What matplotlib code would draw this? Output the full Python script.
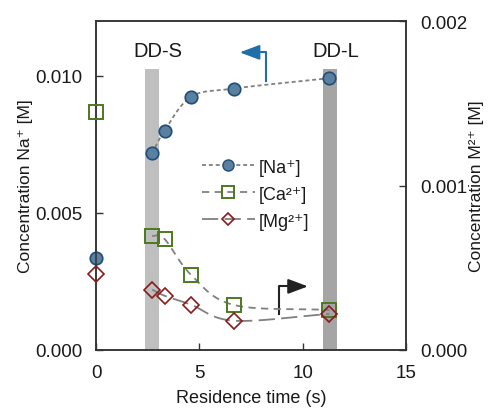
import numpy as np
import matplotlib
matplotlib.use("Agg")
import matplotlib.pyplot as plt
from matplotlib.ticker import FormatStrFormatter

# data
time_s = [0.0, 2.71, 3.31, 4.6, 6.66, 11.29]
na_conc = [0.00334, 0.00717, 0.0080, 0.00924, 0.00954, 0.00992]
ca_conc = [0.00145, 0.000695, 0.000675, 0.000456, 0.000274, 0.000243]
mg_conc = [0.000462, 0.000367, 0.00033, 0.000275, 0.000178, 0.000219]

zone_labels = ["DD-S", "DD-L"]
zone_x = [2.70, 11.31]
zone_height = 0.01027
zone_colors = ["#bfbfbf", "#a5a5a5"]

plt.rcParams['font.family'] = ['Liberation Sans', 'DejaVu Sans']
LINE = "#808080"
TXT = "#1a1a1a"


def smooth(x, y, n=20):
    """Catmull-Rom curve through the points (like a smoothed spreadsheet line)"""
    x = np.asarray(x, float)
    y = np.asarray(y, float)
    px = np.concatenate([[2 * x[0] - x[1]], x, [2 * x[-1] - x[-2]]])
    py = np.concatenate([[2 * y[0] - y[1]], y, [2 * y[-1] - y[-2]]])
    t = np.linspace(0, 1, n)[:, None]
    xs, ys = [], []
    for i in range(1, len(px) - 2):
        for p, out in ((px, xs), (py, ys)):
            p0, p1, p2, p3 = p[i - 1], p[i], p[i + 1], p[i + 2]
            seg = 0.5 * ((2 * p1) + (-p0 + p2) * t + (2 * p0 - 5 * p1 + 4 * p2 - p3) * t**2
                         + (-p0 + 3 * p1 - 3 * p2 + p3) * t**3)
            out.append(seg.ravel())
    return np.concatenate(xs), np.concatenate(ys)


fig = plt.figure(figsize=(4.88, 4.10), dpi=100)
ax = fig.add_axes([0.197, 0.144, 0.635, 0.802])
ax2 = ax.twinx()

# grey zones
for xc, c in zip(zone_x, zone_colors):
    ax.bar(xc, zone_height, width=0.68, color=c, zorder=0)
for lab, xc in zip(zone_labels, zone_x):
    ax.text(xc + 0.3, 0.01092, lab, ha='center', va='center', fontsize=14.5, color=TXT)

# Na on left axis
sx, sy = smooth(time_s[1:], na_conc[1:])
ax.plot(sx, sy, color=LINE, ls=(0, (2.2, 1.6)), lw=1.3, zorder=2)
ax.plot(time_s, na_conc, ls='none', marker='o', ms=9, mfc='#5a7f9f', mec='#1f4e79',
        mew=1.2, clip_on=False, zorder=4)

# divalent ions on right axis
sx, sy = smooth(time_s[1:], ca_conc[1:])
ax2.plot(sx, sy, color=LINE, ls=(0, (4, 3)), lw=1.3, zorder=2)
ax2.plot(time_s, ca_conc, ls='none', marker='s', ms=9.5, mfc='none', mec='#4a7a1f',
         mew=1.4, clip_on=False, zorder=4)
sx, sy = smooth(time_s[1:], mg_conc[1:])
ax2.plot(sx, sy, color=LINE, ls=(0, (9, 3.5)), lw=1.3, zorder=2)
ax2.plot(time_s, mg_conc, ls='none', marker='D', ms=8, mfc='none', mec='#8b1a1a',
         mew=1.2, clip_on=False, zorder=4)

# arrows pointing to axes
ax.plot([8.22, 8.22, 7.5], [0.00982, 0.01086, 0.01086], color='#1f6fa8', lw=1.5)
ax.annotate('', xy=(6.95, 0.01086), xytext=(7.6, 0.01086),
            arrowprops=dict(arrowstyle='-|>,head_length=1.2,head_width=0.45',
                            color='#1f6fa8', lw=1.5, shrinkA=0, shrinkB=0))
ax.plot([8.87, 8.87, 9.6], [0.00131, 0.00232, 0.00232], color='#222222', lw=1.5)
ax.annotate('', xy=(10.25, 0.00232), xytext=(9.5, 0.00232),
            arrowprops=dict(arrowstyle='-|>,head_length=1.2,head_width=0.45',
                            color='#222222', lw=1.5, shrinkA=0, shrinkB=0))

# legend
h1, = ax.plot([], [], color=LINE, ls=(0, (2.2, 1.6)), lw=1.3, marker='o', ms=8,
              mfc='#5a7f9f', mec='#1f4e79')
h2, = ax.plot([], [], color=LINE, ls=(0, (4, 3)), lw=1.3, marker='s', ms=8,
              mfc='none', mec='#4a7a1f', mew=1.4)
h3, = ax.plot([], [], color=LINE, ls=(0, (9, 3.5)), lw=1.3, marker='D', ms=6.5,
              mfc='none', mec='#8b1a1a', mew=1.2)
leg = ax.legend([h1, h2, h3], ['[Na⁺]', '[Ca²⁺]', '[Mg²⁺]'],
                loc='center left', bbox_to_anchor=(0.29, 0.474), frameon=False,
                fontsize=13, handlelength=2.9, handletextpad=0.25, labelspacing=0.55)
for t in leg.get_texts():
    t.set_color(TXT)

ax.set_xlim(0, 15)
ax.set_xticks([0, 5, 10, 15])
ax.set_ylim(0, 0.012)
ax.set_yticks([0, 0.005, 0.010])
ax.yaxis.set_major_formatter(FormatStrFormatter('%.3f'))
ax2.set_ylim(0, 0.002)
ax2.set_yticks([0, 0.001, 0.002])
ax2.yaxis.set_major_formatter(FormatStrFormatter('%.3f'))

for a in (ax, ax2):
    a.tick_params(direction='in', labelsize=13.5, length=5, width=1, color='#333333',
                  labelcolor=TXT, pad=10)
    for s in a.spines.values():
        s.set_linewidth(1.1)
        s.set_color('#333333')

ax.set_xlabel('Residence time (s)', fontsize=13, color=TXT)
ax.set_ylabel('Concentration Na⁺ [M]', fontsize=12.5, color=TXT)
ax2.set_ylabel('Concentration M²⁺ [M]', fontsize=12.5, color=TXT, rotation=90)
ax.xaxis.set_label_coords(0.5, -0.118)
ax.yaxis.set_label_coords(-0.205, 0.5)
ax2.yaxis.set_label_coords(1.203, 0.5)

fig.savefig('out.png', dpi=100)
